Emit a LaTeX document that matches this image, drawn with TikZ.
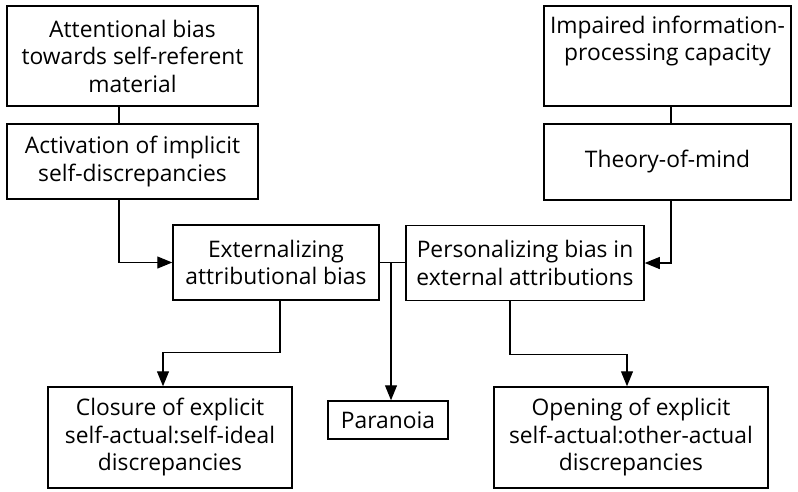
\documentclass[tikz,border=0pt]{standalone}
\usepackage{fontspec}
\setmainfont{Open Sans}
\usetikzlibrary{arrows.meta}
\begin{document}
\begin{tikzpicture}[x=1pt,y=-1pt,
  box/.style={draw,line width=1.5pt,align=center,inner sep=0pt,
    font=\fontsize{22.8}{27.5}\selectfont},
  link/.style={line width=1.2pt},
  arr/.style={link,-{Triangle[length=15pt,width=12pt]}}]
\useasboundingbox (0,0) rectangle (798,491);

% left column
\node[box,minimum width=251,minimum height=100] (att) at (132.5,56)
  {Attentional bias\\towards self-referent\\material};
\node[box,minimum width=251,minimum height=75] (act) at (132.5,161.5)
  {Activation of implicit\\self-discrepancies};

% right column
\node[box,minimum width=247,minimum height=100] (imp) at (667.5,56)
  {Impaired information-\\processing capacity\\\strut};
\node[box,minimum width=247,minimum height=76] (tom) at (667.5,162)
  {Theory-of-mind};

% middle row
\node[box,minimum width=206,minimum height=75] (ext) at (276,262.5)
  {Externalizing\\attributional bias};
\node[box,minimum width=238,minimum height=75] (per) at (525,263)
  {Personalizing bias in\\external attributions};

% outcomes
\node[box,minimum width=244,minimum height=101] (clo) at (170,437.5)
  {Closure of explicit\\self-actual:self-ideal\\discrepancies};
\node[box,minimum width=120,minimum height=38] (par) at (388,420)
  {Paranoia};
\node[box,minimum width=274,minimum height=101] (ope) at (631,437.5)
  {Opening of explicit\\self-actual:other-actual\\discrepancies};

% connectors
\draw[link] ([xshift=-13.5]att.south) -- ([xshift=-13.5]act.north);
\draw[link] ([xshift=3.5]imp.south) -- ([xshift=3.5]tom.north);
\draw[arr] ([xshift=-13.5]act.south) |- (ext.west);
\draw[arr] ([xshift=3.5]tom.south) |- (per.east);
\draw[link] (ext.east) -- (ext.east -| per.west);
\coordinate (fork) at (391,262.5);
\draw[arr] (fork) -- (fork |- par.north);
\draw[arr] ([xshift=4]ext.south) -- ++(0,52) -| ([xshift=-7]clo.north);
\draw[arr] ([xshift=-15]per.south) -- ++(0,53) -| ([xshift=-4]ope.north);
\end{tikzpicture}
\end{document}
